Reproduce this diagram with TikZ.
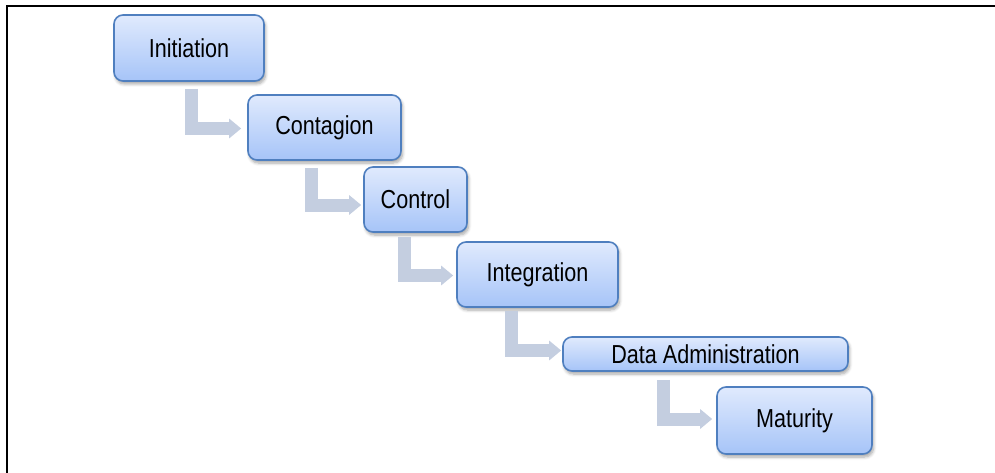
\documentclass[tikz,border=0pt]{standalone}
\usepackage{fontspec}
\setmainfont{Liberation Sans}
\newfontfamily\narrowsans[FakeStretch=0.83]{Liberation Sans}
\usetikzlibrary{arrows.meta,shadows.blur,calc}
\definecolor{boxtop}{HTML}{E0EAFD}
\definecolor{boxbot}{HTML}{A6C4F8}
\definecolor{boxline}{HTML}{4F7FBF}
\definecolor{flowcol}{HTML}{C4CEE0}
\tikzset{
  stagebox/.style={draw=boxline, line width=1.6pt, rounded corners=9pt,
    top color=boxtop, bottom color=boxbot, inner sep=0pt,
    font=\narrowsans\fontsize{26}{30}\selectfont, text=black,
    blur shadow={shadow xshift=1.5pt, shadow yshift=-3pt, shadow blur steps=6, shadow opacity=35, shadow blur radius=3pt}},
  flow/.style={draw=flowcol, line width=13pt,
    -{Triangle[length=12pt,width=19pt,color=flowcol]}}
}
\begin{document}
\begin{tikzpicture}[x=1pt,y=-1pt]
\useasboundingbox (0,0) rectangle (995,473);
\draw[line width=2.5pt] (7,473) -- (7,6) -- (995,6);
\node[stagebox, minimum width=150pt, minimum height=66pt] (a) at (189,48) {Initiation};
\node[stagebox, minimum width=153pt, minimum height=65pt] (b) at (324.5,127.5) {Contagion};
\node[stagebox, minimum width=103pt, minimum height=65pt] (c) at (415.5,199.5) {Control};
\node[stagebox, minimum width=161pt, minimum height=65pt] (d) at (537.5,274.5) {Integration};
\node[stagebox, minimum width=285pt, minimum height=34pt] (e) at (705.5,354) {Data Administration};
\node[stagebox, minimum width=155pt, minimum height=67pt] (f) at (794.5,420.5) {Maturity};
\draw[flow] ([xshift=2.5pt,yshift=-7pt]a.south) |- ([xshift=-6pt,yshift=-1pt]b.west);
\draw[flow] ([xshift=-13pt,yshift=-7pt]b.south) |- ([xshift=-2pt,yshift=-5.5pt]c.west);
\draw[flow] ([xshift=-11.5pt,yshift=-4pt]c.south) |- ([xshift=-3pt,yshift=-1pt]d.west);
\draw[flow] ([xshift=-26pt,yshift=-3pt]d.south) |- ([xshift=-1pt,yshift=3.5pt]e.west);
\draw[flow] ([xshift=-42.5pt,yshift=-8pt]e.south) |- ([xshift=-4pt,yshift=1.5pt]f.west);
\end{tikzpicture}
\end{document}
